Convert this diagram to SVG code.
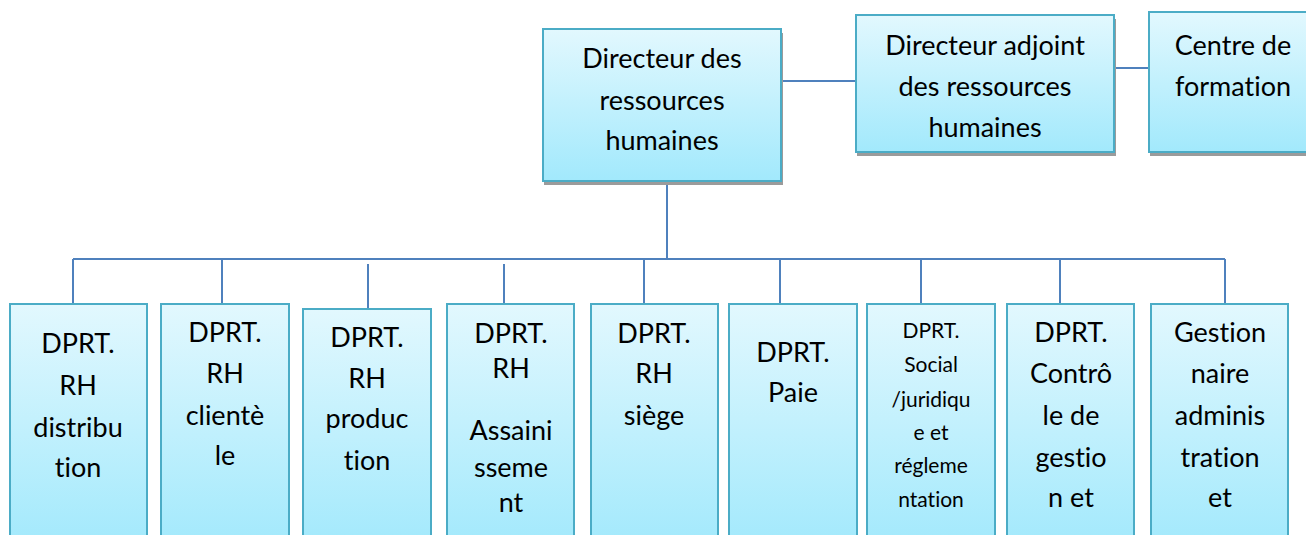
<svg xmlns="http://www.w3.org/2000/svg" width="1306" height="535" viewBox="0 0 1306 535">
<defs>
<linearGradient id="g" x1="0" y1="0" x2="0" y2="1">
<stop offset="0" stop-color="#e2f8fe"/>
<stop offset="1" stop-color="#a2e9fc"/>
</linearGradient>
<style>
.box{fill:url(#g);stroke:#4bacc6;stroke-width:2}
.sh{fill:#9b9b9b}
.t{font-family:Lato,"Liberation Sans",sans-serif;font-size:27px;fill:#000;text-anchor:middle;font-variant-ligatures:none;font-feature-settings:"liga" 0,"clig" 0}
.s{font-size:21px}
.c{stroke:#4f81bd;stroke-width:2;fill:none}
</style>
</defs>
<g id="connectors">
<path class="c" d="M781 81H857M1114 68H1150M667 182V259M73 259H1225M73 259V304M222 259V304M644 259V304M780 259V304M921 259V304M1060 259V304M1225 259V304M368 264V309M504 264V308"/>
</g>
<g id="n-directeur">
<rect class="sh" x="544" y="33" width="239" height="152"/>
<rect class="box" x="543" y="29" width="238" height="152"/>
<text class="t" x="662" y="68">Directeur des</text>
<text class="t" x="662" y="110">ressources</text>
<text class="t" x="662" y="150">humaines</text>
</g>
<g id="n-adjoint">
<rect class="sh" x="857" y="19" width="259" height="137"/>
<rect class="box" x="856" y="15" width="258" height="137"/>
<text class="t" x="985" y="55">Directeur adjoint</text>
<text class="t" x="985" y="96">des ressources</text>
<text class="t" x="985" y="137">humaines</text>
</g>
<g id="n-centre">
<rect class="sh" x="1150" y="16" width="170" height="140"/>
<rect class="box" x="1149" y="12" width="170" height="140"/>
<text class="t" x="1233" y="55">Centre de</text>
<text class="t" x="1233" y="96">formation</text>
</g>
<g id="n-distribution">
<rect class="box" x="10" y="304" width="137" height="245"/>
<text class="t" x="78" y="353">DPRT.</text>
<text class="t" x="78" y="395">RH</text>
<text class="t" x="78" y="437">distribu</text>
<text class="t" x="78" y="477">tion</text>
</g>
<g id="n-clientele">
<rect class="box" x="161" y="304" width="128" height="245"/>
<text class="t" x="225" y="342">DPRT.</text>
<text class="t" x="225" y="383">RH</text>
<text class="t" x="225" y="425">clientè</text>
<text class="t" x="225" y="465">le</text>
</g>
<g id="n-production">
<rect class="box" x="303" y="309" width="128" height="240"/>
<text class="t" x="367" y="347">DPRT.</text>
<text class="t" x="367" y="388">RH</text>
<text class="t" x="367" y="428">produc</text>
<text class="t" x="367" y="470">tion</text>
</g>
<g id="n-assainissement">
<rect class="box" x="447" y="304" width="127" height="245"/>
<text class="t" x="511" y="343">DPRT.</text>
<text class="t" x="511" y="378">RH</text>
<text class="t" x="511" y="440">Assaini</text>
<text class="t" x="511" y="477">sseme</text>
<text class="t" x="511" y="512">nt</text>
</g>
<g id="n-siege">
<rect class="box" x="591" y="304" width="127" height="245"/>
<text class="t" x="654" y="343">DPRT.</text>
<text class="t" x="654" y="383">RH</text>
<text class="t" x="654" y="425">siège</text>
</g>
<g id="n-paie">
<rect class="box" x="729" y="304" width="128" height="245"/>
<text class="t" x="793" y="362">DPRT.</text>
<text class="t" x="793" y="402">Paie</text>
</g>
<g id="n-social">
<rect class="box" x="867" y="304" width="128" height="245"/>
<text class="t s" x="931" y="338">DPRT.</text>
<text class="t s" x="931" y="372">Social</text>
<text class="t s" x="931" y="407">/juridiqu</text>
<text class="t s" x="931" y="440">e et</text>
<text class="t s" x="931" y="473">régleme</text>
<text class="t s" x="931" y="507">ntation</text>
</g>
<g id="n-controle">
<rect class="box" x="1007" y="304" width="127" height="245"/>
<text class="t" x="1071" y="342">DPRT.</text>
<text class="t" x="1071" y="383">Contrô</text>
<text class="t" x="1071" y="425">le de</text>
<text class="t" x="1071" y="467">gestio</text>
<text class="t" x="1071" y="507">n et</text>
</g>
<g id="n-gestionnaire">
<rect class="box" x="1151" y="304" width="137" height="245"/>
<text class="t" x="1220" y="342">Gestion</text>
<text class="t" x="1220" y="383">naire</text>
<text class="t" x="1220" y="425">adminis</text>
<text class="t" x="1220" y="467">tration</text>
<text class="t" x="1220" y="507">et</text>
</g>
</svg>
